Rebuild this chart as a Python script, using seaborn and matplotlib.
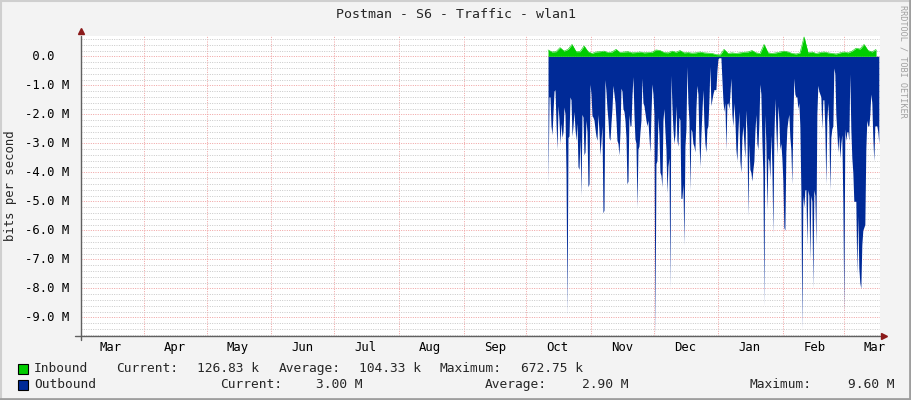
import numpy as np
import pandas as pd
import matplotlib as mpl
mpl.use("Agg")
import matplotlib.pyplot as plt
import matplotlib.dates as mdates
import matplotlib.transforms as mtransforms
from matplotlib.patches import Rectangle
from matplotlib.lines import Line2D
import seaborn as sns

title = "Postman - S6 - Traffic - wlan1"
y_title = "bits per second"
watermark = "RRDTOOL / TOBI OETIKER"

# outbound traffic in Mbit/s, one sample every ~11.5 h
outbound_mbps = [
    4.4, 1.4, 1.4, 2.4, 2.7, 1.9, 1.2, 1.15, 2.3, 3.2,
    1.7, 2.2, 3.0, 2.3, 2.8, 2.6, 1.75, 2.0, 4.0, 8.9,
    2.8, 2.75, 1.4, 1.5, 2.75, 2.4, 1.9, 2.5, 2.9, 2.3,
    3.8, 3.9, 2.8, 4.8, 2.0, 2.1, 3.4, 3.3, 2.2, 2.6,
    4.5, 4.4, 0.95, 1.3, 2.05, 2.1, 2.2, 2.5, 2.75, 2.9,
    2.0, 2.6, 3.4, 2.9, 2.4, 5.4, 5.3, 0.8, 1.2, 1.8,
    2.2, 2.8, 2.9, 2.3, 1.8, 1.0, 1.3, 1.6, 2.2, 2.9,
    3.0, 3.4, 2.6, 1.1, 1.2, 1.8, 1.9, 2.2, 2.8, 4.4,
    4.3, 2.0,
    2.4, 2.4, 1.35, 0.7, 2.0, 2.85, 3.0, 5.2, 3.2, 3.1,
    2.6, 2.2, 0.75, 1.6, 1.7, 1.95, 2.2, 2.4, 2.2, 2.8,
    3.3, 2.0, 0.95, 1.3, 2.0, 9.6, 3.7, 3.6, 2.1, 2.7,
    4.0, 4.1, 4.5, 2.2, 1.8, 2.6, 3.2, 4.7, 3.8, 3.5,
    8.0, 0.65, 1.7, 2.5, 3.0, 2.7, 1.7, 2.9, 3.1, 2.1,
    2.2, 4.9, 4.9, 4.4, 6.5, 3.1, 2.5, 0.35, 1.6, 2.2,
    4.6, 2.5, 2.6, 3.0, 3.1, 3.3, 1.8, 1.0, 1.3, 2.9,
    3.8, 2.7, 1.9, 1.15, 2.3, 3.0, 3.3, 2.5, 2.4, 1.5,
    0.35, 1.7, 1.5, 1.3,
    1.15, 1.15, 1.15, 0.5, 0.1, 0.05, 0.05, 0.05, 0.8, 1.5,
    1.9, 1.6, 3.2, 1.65, 1.6, 1.8, 1.3, 0.75, 2.0, 2.4,
    1.6, 2.2, 3.2, 3.6, 2.6, 1.9, 3.6, 4.0, 2.8, 2.4,
    3.0, 3.5, 1.85, 2.6, 5.5, 3.0, 3.9, 4.0, 4.3, 3.9,
    3.6, 2.6, 2.0, 3.0, 3.2, 2.3, 0.95, 1.3, 2.9, 4.0,
    8.6, 2.0, 3.0, 5.3, 3.5, 3.6, 4.2, 2.7, 3.8, 6.1,
    2.8, 1.45, 2.5, 3.4, 1.7, 2.2, 3.2, 3.0, 3.5, 4.3,
    5.9, 6.0, 3.3, 2.5, 2.2, 2.0, 2.8, 3.2, 4.4, 2.2,
    0.75, 1.3, 1.4, 1.4,
    1.8, 1.6, 2.4, 4.6, 9.4, 4.8, 5.2, 4.6, 4.6, 6.5,
    4.6, 4.8, 7.0, 4.8, 5.0, 8.0, 4.6, 4.8, 6.5, 2.0,
    1.0, 1.2, 1.3, 1.4, 2.5, 1.5, 1.5, 2.5, 4.4, 2.2,
    1.6, 2.4, 4.6, 2.8, 2.5, 2.4, 0.4, 0.6, 2.0, 2.6,
    3.3, 2.7, 3.5, 3.0, 2.7, 5.0, 8.8, 2.5, 2.9, 2.6,
    2.6, 2.9, 0.6, 2.5, 3.5, 4.0, 5.0, 5.0, 5.0, 7.5,
    5.5, 7.3, 7.8, 8.0, 6.5, 6.0, 5.9, 5.8, 3.2, 2.2,
    2.4, 2.4, 2.0, 1.3, 1.6, 2.8, 3.6, 2.4, 2.4, 2.4,
    2.6, 3.0,
]

# inbound traffic in Mbit/s, one sample every ~46 h
inbound_mbps = [
    0.22, 0.15, 0.16, 0.30, 0.18, 0.24, 0.41, 0.16, 0.16, 0.36,
    0.16, 0.10, 0.15, 0.16, 0.18, 0.13, 0.15, 0.24, 0.13, 0.15,
    0.16,
    0.12, 0.13, 0.15, 0.12, 0.13, 0.14, 0.22, 0.20, 0.13, 0.12,
    0.18, 0.14, 0.20, 0.12, 0.13, 0.11, 0.12, 0.15, 0.12, 0.11,
    0.10,
    0.06, 0.05, 0.24, 0.10, 0.12, 0.10, 0.12, 0.14, 0.15, 0.20,
    0.12, 0.10, 0.41, 0.12, 0.10, 0.12, 0.15, 0.18, 0.15, 0.10,
    0.08,
    0.12, 0.67, 0.12, 0.15, 0.10, 0.13, 0.15, 0.12, 0.10, 0.08,
    0.12, 0.15, 0.12, 0.18, 0.28, 0.25, 0.41, 0.20, 0.15, 0.24,
]

series_start = "2011-10-11 10:30"
outbound_step = "689min"
inbound_step = "2758min"

ytick_values = [0, -1, -2, -3, -4, -5, -6, -7, -8, -9]

legend_rows = [
    ("Inbound", "#00CC00", ["Current:", "Average:", "Maximum:"],
     ["126.83 k", "104.33 k", "672.75 k"]),
    ("Outbound", "#002A97", ["Current:", "Average:", "Maximum:"],
     ["3.00 M", "2.90 M", "9.60 M"]),
]

out_df = pd.DataFrame({
    "time": pd.date_range(series_start, periods=len(outbound_mbps), freq=outbound_step),
    "bps": -np.array(outbound_mbps) * 1e6,
})
in_df = pd.DataFrame({
    "time": pd.date_range(series_start, periods=len(inbound_mbps), freq=inbound_step),
    "bps": np.array(inbound_mbps) * 1e6,
})

sns.set_theme(style="white")
plt.rcParams["font.family"] = ["DejaVu Sans Mono", "DejaVu Sans"]

W, H = 911, 400
fig = plt.figure(figsize=(W / 100, H / 100), dpi=100, facecolor="#F3F3F3")
ax = fig.add_axes([81 / W, 1 - 335.7 / H, 799 / W, 299.7 / H])
ax.set_facecolor("white")

green = "#00CC00"
blue = "#002A97"
red_grid = "#F0A0A0"
gray_grid = "#C8C8C8"

ax.fill_between(out_df["time"], 0, out_df["bps"], color=blue, lw=0, zorder=3)
ax.fill_between(in_df["time"], 0, in_df["bps"], color=green, lw=0, zorder=3)
sns.lineplot(data=in_df, x="time", y="bps", color=green, lw=0.4, ax=ax, zorder=3)

ax.set_xlim(pd.Timestamp("2011-03-01 20:10"), pd.Timestamp("2012-03-18 09:07"))
ax.set_ylim(-9.634e6, 0.70e6)

# y grid: 1 M major (red), 0.2 M minor (gray)
ax.yaxis.set_major_locator(mpl.ticker.MultipleLocator(1e6))
ax.yaxis.set_minor_locator(mpl.ticker.MultipleLocator(0.2e6))
ax.yaxis.set_major_formatter(mpl.ticker.NullFormatter())
ax.grid(which="major", axis="y", color=red_grid, lw=0.7, ls=(0, (1, 1.4)))
ax.grid(which="minor", axis="y", color=gray_grid, lw=0.7, ls=(0, (1, 1.4)))

# x: month-start grid, labels mid-month
ax.xaxis.set_minor_locator(mdates.MonthLocator(bymonthday=1))
ax.xaxis.set_major_locator(mdates.MonthLocator(bymonthday=16))
ax.xaxis.set_major_formatter(mdates.DateFormatter("%b"))
ax.grid(which="minor", axis="x", color=red_grid, lw=0.7, ls=(0, (1, 1.4)))
ax.grid(which="major", axis="x", visible=False)
ax.tick_params(axis="x", which="major", length=0, pad=3.5, labelsize=8.8, colors="black")
ax.tick_params(axis="x", which="minor", length=4, direction="inout", color="#E06060", width=0.7)
ax.tick_params(axis="y", which="major", length=4, direction="inout", color="#808080", width=0.7)
ax.tick_params(axis="y", which="minor", length=3, direction="inout", color="#A0A0A0", width=0.6)
ax.set_xlabel("")
ax.set_ylabel("")
for s in ax.spines.values():
    s.set_visible(False)

# y tick labels
ylab_tr = mtransforms.blended_transform_factory(ax.transAxes, ax.transData)
for v in ytick_values:
    lab = f"{v:4.1f}" + (" M" if v != 0 else "")
    if v == 0:
        lab = " 0.0"
    ax.text((25 - 81) / 799, v * 1e6, lab, transform=ylab_tr, ha="left", va="center",
            fontsize=8.8, color="black")

# axis lines with arrows
axis_col = "#606060"
ax.plot([-0.008, 1.0], [0, 0], transform=ax.transAxes, color=axis_col, lw=1, clip_on=False, zorder=5)
ax.plot([0, 0], [-0.015, 1.0], transform=ax.transAxes, color=axis_col, lw=1, clip_on=False, zorder=5)
ax.plot([1.005], [0], transform=ax.transAxes, marker=">", ms=4.5, color="#8B1A1A", clip_on=False, zorder=6)
ax.plot([0], [1.016], transform=ax.transAxes, marker="^", ms=4.5, color="#8B1A1A", clip_on=False, zorder=6)

# titles
fig.text(0.5, 1 - 14 / H, title, ha="center", va="center", fontsize=9.5)
fig.text(11 / W, 1 - 186 / H, y_title, rotation=90, ha="center", va="center", fontsize=8.8)
fig.text(902.5 / W, 1 - 61 / H, watermark, rotation=270, ha="center", va="center",
         fontsize=6.1, color="#A0A0A0")

# legend
row_y = [368.5, 384.5]
label_x = [[116, 279, 440], [220, 485, 750]]
value_right = [[259, 421, 583], [363, 628, 894]]
for r, (name, col, keys, vals) in enumerate(legend_rows):
    y = 1 - row_y[r] / H
    fig.add_artist(Rectangle((18 / W, 1 - (row_y[r] + 5) / H), 10 / W, 10 / H,
                             transform=fig.transFigure, facecolor=col, edgecolor="black", lw=0.8))
    fig.text(34 / W, y, name, ha="left", va="center", fontsize=9.3)
    for k, v, xk, xv in zip(keys, vals, label_x[r], value_right[r]):
        fig.text(xk / W, y, k, ha="left", va="center", fontsize=9.3)
        fig.text(xv / W, y, v, ha="right", va="center", fontsize=9.3)

# 3d frame
fig.add_artist(Line2D([0, 1], [1 - 1 / H, 1 - 1 / H], transform=fig.transFigure, color="#CFCFCF", lw=1.5))
fig.add_artist(Line2D([1 / W, 1 / W], [0, 1], transform=fig.transFigure, color="#CFCFCF", lw=1.5))
fig.add_artist(Line2D([0, 1], [1.5 / H, 1.5 / H], transform=fig.transFigure, color="#9E9E9E", lw=2))
fig.add_artist(Line2D([1 - 1.5 / W, 1 - 1.5 / W], [0, 1], transform=fig.transFigure, color="#9E9E9E", lw=2))

fig.savefig("out.png", dpi=100, facecolor=fig.get_facecolor())
